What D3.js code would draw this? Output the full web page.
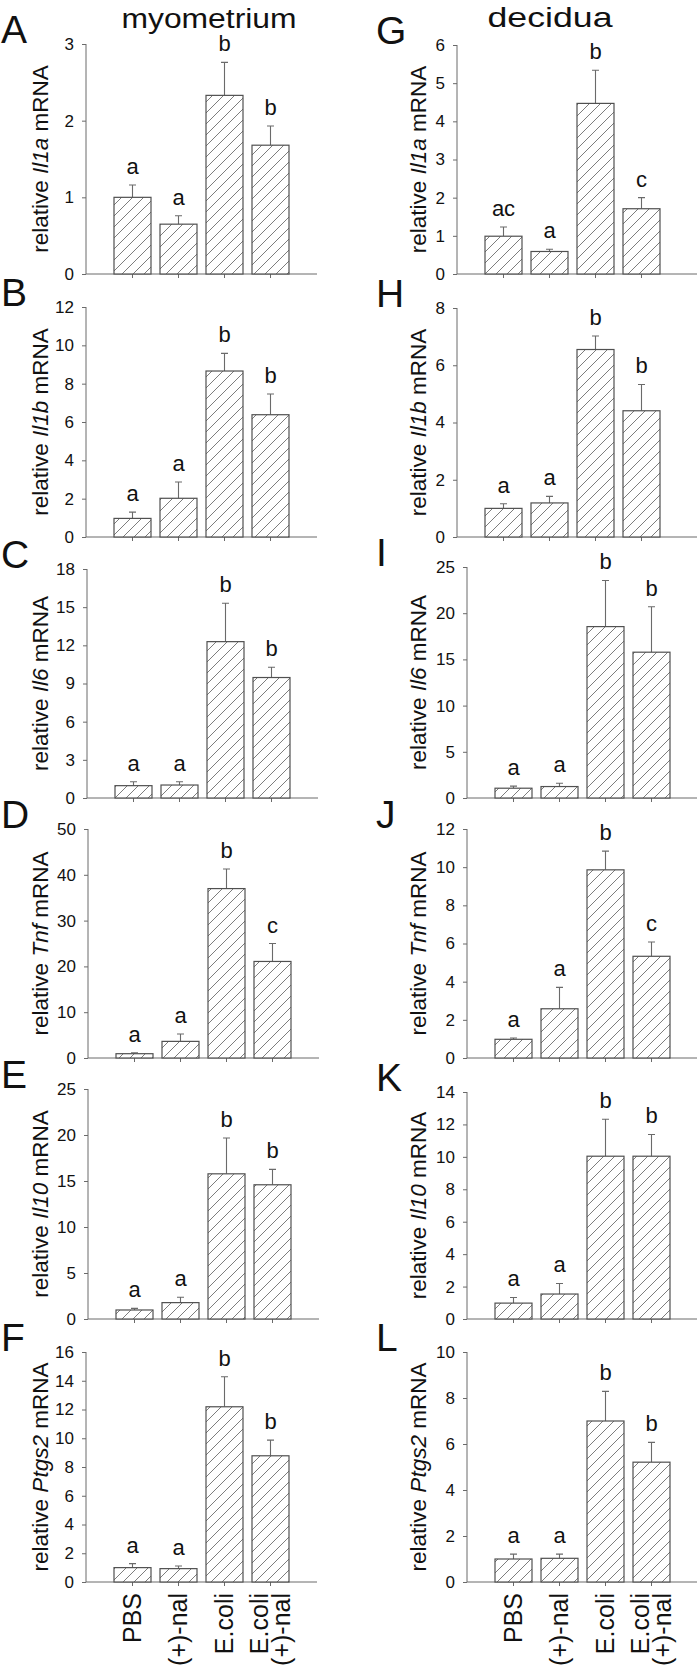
<!DOCTYPE html>
<html><head><meta charset="utf-8">
<script src="https://cdn.jsdelivr.net/npm/d3@7"></script>
<style>
body{margin:0;background:#fff;}
svg{display:block;font-family:"Liberation Sans",Arial,sans-serif;}
</style></head>
<body><svg id="c" width="700" height="1665"></svg>
<script>
// ---------- DATA ----------
const groups = ["PBS", "(+)-nal", "E.coli", "E.coli (+)-nal"];
const groupLines = [["PBS"], ["(+)-nal"], ["E.coli"], ["E.coli", "(+)-nal"]];
const columnTitles = ["myometrium", "decidua"];

const panelLetters = [["A","B","C","D","E","F"], ["G","H","I","J","K","L"]];
const genes = ["Il1a", "Il1b", "Il6", "Tnf", "Il10", "Ptgs2"];

// y-axis maxima and tick steps
const yMaxMyo = [3, 12, 18, 50, 25, 16];
const yStepMyo = [1, 2, 3, 10, 5, 2];
const yMaxDec = [6, 8, 25, 12, 14, 10];
const yStepDec = [1, 2, 5, 2, 2, 2];

// myometrium means and mean+SEM
const meanA = [1.00, 0.65, 2.33, 1.68];  const errA = [1.16, 0.76, 2.76, 1.93];
const meanB = [0.97, 2.02, 8.66, 6.38];  const errB = [1.30, 2.87, 9.58, 7.46];
const meanC = [0.97, 1.02, 12.29, 9.47]; const errC = [1.28, 1.28, 15.31, 10.28];
const meanD = [0.94, 3.63, 36.99, 21.08]; const errD = [1.16, 5.23, 41.28, 25.0];
const meanE = [0.98, 1.78, 15.78, 14.59]; const errE = [1.16, 2.36, 19.67, 16.26];
const meanF = [1.00, 0.93, 12.19, 8.78]; const errF = [1.28, 1.11, 14.28, 9.87];
// decidua
const meanG = [0.99, 0.59, 4.47, 1.71]; const errG = [1.23, 0.65, 5.34, 2.00];
const meanH = [1.00, 1.19, 6.55, 4.41]; const errH = [1.16, 1.42, 7.02, 5.33];
const meanI = [1.06, 1.24, 18.55, 15.78]; const errI = [1.28, 1.60, 23.54, 20.70];
const meanJ = [0.98, 2.58, 9.86, 5.33]; const errJ = [1.05, 3.70, 10.84, 6.08];
const meanK = [0.98, 1.54, 10.04, 10.04]; const errK = [1.33, 2.19, 12.32, 11.38];
const meanL = [1.00, 1.03, 7.00, 5.21]; const errL = [1.21, 1.21, 8.29, 6.07];

const sigA = ["a","a","b","b"], sigB = ["a","a","b","b"], sigC = ["a","a","b","b"];
const sigD = ["a","a","b","c"], sigE = ["a","a","b","b"], sigF = ["a","a","b","b"];
const sigG = ["ac","a","b","c"], sigH = ["a","a","b","b"], sigI = ["a","a","b","b"];
const sigJ = ["a","a","b","c"], sigK = ["a","a","b","b"], sigL = ["a","a","b","b"];

const means = [[meanA,meanB,meanC,meanD,meanE,meanF],[meanG,meanH,meanI,meanJ,meanK,meanL]];
const errs  = [[errA,errB,errC,errD,errE,errF],[errG,errH,errI,errJ,errK,errL]];
const sigs  = [[sigA,sigB,sigC,sigD,sigE,sigF],[sigG,sigH,sigI,sigJ,sigK,sigL]];
const yMax  = [yMaxMyo, yMaxDec];
const yStep = [yStepMyo, yStepDec];

// ---------- LAYOUT ----------
const axisXs = [[86,86,87,88,88,86],[457,457,467,467,467,467]];
const zeros  = [274, 537, 798, 1058, 1319, 1582];
const tops   = [[44,307,569,829,1089,1352],[45,308,567,829,1092,1352]];
const xAxisEnd = [null, 697];
const yLabelX = [48, 426];
const letterX = [1, 376];
const titleX = [209, 550];
const titleY = [28, 27];
const titleSize = [27, 28];
const titleLen = [175, 125];

const svg = d3.select("#c");
const defs = svg.append("defs");
const pat = defs.append("pattern").attr("id","hatch")
  .attr("patternUnits","userSpaceOnUse").attr("width",11).attr("height",11);
pat.append("rect").attr("width",11).attr("height",11).attr("fill","#fff");
pat.append("path").attr("d","M-1,1 L1,-1 M0,11 L11,0 M10,12 L12,10")
  .attr("stroke","#6e6e6e").attr("stroke-width",0.9);

const axisColor = "#6a6a6a";
const textColor = "#111";

columnTitles.forEach((t,c)=>{
  svg.append("text").attr("x",titleX[c]).attr("y",titleY[c])
    .attr("text-anchor","middle").attr("font-size",titleSize[c])
    .attr("textLength",titleLen[c]).attr("lengthAdjust","spacingAndGlyphs")
    .attr("fill",textColor).text(t);
});

for (let c=0;c<2;c++){
  for (let p=0;p<6;p++){
    const ax = axisXs[c][p], y0 = zeros[p], yt = tops[c][p];
    const g = svg.append("g");
    const y = d3.scaleLinear().domain([0, yMax[c][p]]).range([y0, yt]);
    const x = d3.scaleBand().domain(groups).range([ax+23.5, ax+23.5+184])
      .paddingInner(9/46).paddingOuter(9/92);
    const xEnd = xAxisEnd[c] || ax+231;

    // y axis
    const ticks = d3.range(0, yMax[c][p]+1e-9, yStep[c][p]);
    const yAx = g.append("g").attr("transform",`translate(${ax},0)`)
      .call(d3.axisLeft(y).tickValues(ticks).tickSize(4).tickPadding(8).tickFormat(d3.format("d")));
    yAx.select(".domain").attr("stroke",axisColor).attr("d",`M0,${y0}V${yt}`);
    yAx.selectAll(".tick line").attr("stroke",axisColor);
    yAx.selectAll(".tick text").attr("font-size",17).attr("fill",textColor)
      .attr("font-family","'Liberation Sans',Arial,sans-serif");

    // x axis line + ticks
    const xAx = g.append("g").attr("transform",`translate(0,${y0})`)
      .call(d3.axisBottom(x).tickSize(4).tickFormat(""));
    xAx.select(".domain").attr("stroke",axisColor).attr("d",`M${ax},0H${xEnd}`);
    xAx.selectAll(".tick line").attr("stroke",axisColor);

    const m = means[c][p], e = errs[c][p], s = sigs[c][p];
    // error bars
    g.selectAll(".eb").data(groups).join("path")
      .attr("d",(d,i)=>{const cx=x(d)+x.bandwidth()/2;return `M${cx},${y(m[i])}V${y(e[i])}M${cx-3.5},${y(e[i])}H${cx+3.5}`;})
      .attr("stroke",axisColor).attr("stroke-width",1.1).attr("fill","none");
    // bars
    g.selectAll(".bar").data(groups).join("rect")
      .attr("x",d=>x(d)).attr("width",x.bandwidth())
      .attr("y",(d,i)=>y(m[i])).attr("height",(d,i)=>y0-y(m[i]))
      .attr("fill","url(#hatch)").attr("stroke","#505050").attr("stroke-width",1.2);
    // significance letters
    g.selectAll(".sig").data(groups).join("text")
      .attr("x",d=>x(d)+x.bandwidth()/2).attr("y",(d,i)=>y(e[i])-11)
      .attr("text-anchor","middle").attr("font-size",22).attr("fill",textColor)
      .text((d,i)=>s[i]);

    // y label
    const yl = g.append("text").attr("transform",`translate(${yLabelX[c]},${(y0+yt)/2}) rotate(-90)`)
      .attr("text-anchor","middle").attr("font-size",22.5).attr("fill",textColor);
    yl.append("tspan").text("relative ");
    yl.append("tspan").attr("font-style","italic").text(genes[p]);
    yl.append("tspan").text(" mRNA");

    // panel letter
    g.append("text").attr("x",letterX[c]).attr("y",yt-1).attr("font-size",39)
      .attr("fill",textColor).text(panelLetters[c][p]);

    // group labels under last row
    if (p===5){
      groups.forEach((gname,i)=>{
        const lines = groupLines[i];
        const cx = x(gname)+x.bandwidth()/2;
        lines.forEach((ln,k)=>{
          const off = (k-(lines.length-1)/2)*22;
          g.append("text").attr("transform",`translate(${cx+off},${y0+11}) rotate(-90)`)
            .attr("text-anchor","end").attr("dy","0.35em").attr("font-size",25)
            .attr("fill",textColor).text(ln);
        });
      });
    }
  }
}
</script></body></html>
